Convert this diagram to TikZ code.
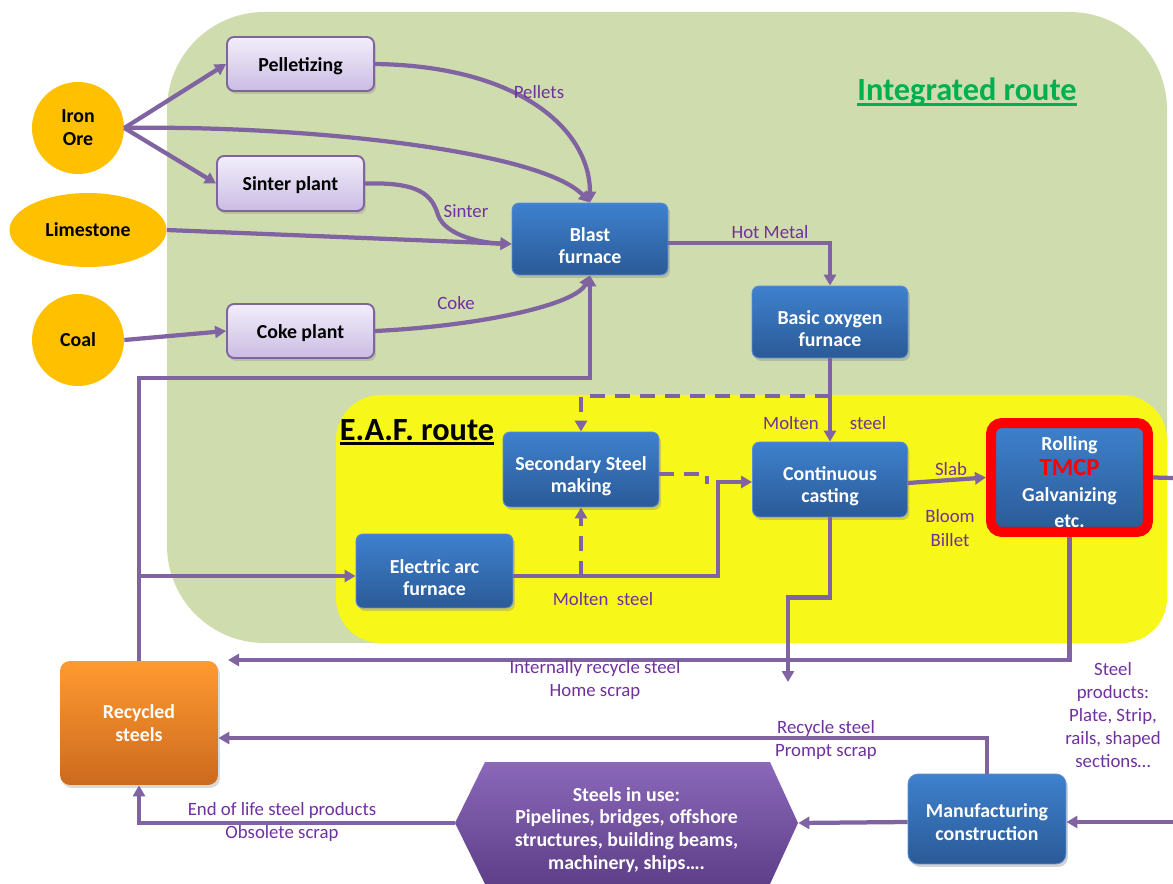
\documentclass[tikz,border=0pt]{standalone}
\usepackage{fontspec}
\setmainfont{Carlito}
\usetikzlibrary{arrows.meta,shapes.geometric,shadows,calc}
\definecolor{bggreen}{HTML}{CFDDAE}
\definecolor{bgyellow}{HTML}{F7F71A}
\definecolor{lc}{HTML}{8064A2}
\definecolor{lt}{HTML}{7030A0}
\definecolor{oc}{HTML}{FFC000}
\definecolor{tg}{HTML}{00B050}
\definecolor{bA}{HTML}{3E81CE}
\definecolor{bB}{HTML}{2B5A97}
\definecolor{bC}{HTML}{5B8ED3}
\definecolor{lA}{HTML}{F2EEFB}
\definecolor{lB}{HTML}{CBBCE3}
\definecolor{rA}{HTML}{FF9A30}
\definecolor{rB}{HTML}{CC6A1E}
\definecolor{hA}{HTML}{8B68BA}
\definecolor{hB}{HTML}{5E3F88}
\newcommand\myNodeFont{\fontsize{11.3}{13}\selectfont\bfseries}
\newcommand\myLblFont{\fontsize{10.7}{13.2}\selectfont}
\newcommand\myTitleFont{\fontsize{18.4}{20}\selectfont\bfseries}
\newcommand\myGap[1]{\rule{0pt}{#1}}
\tikzset{
  flow/.style={draw=lc, line width=0.085cm, -{Triangle[length=0.22cm,width=0.24cm]}},
  plainline/.style={draw=lc, line width=0.085cm},
  dashes/.style={dash pattern=on 0.3cm off 0.2cm},
  bluebox/.style={rectangle, rounded corners=0.14cm, top color=bA, bottom color=bB, draw=bC, line width=0.5pt,
    text=white, font=\myNodeFont, align=center, inner sep=2pt,
    drop shadow={shadow xshift=0.04cm, shadow yshift=-0.06cm, opacity=0.35}},
  lavbox/.style={rectangle, rounded corners=0.14cm, top color=lA, bottom color=lB, draw=lc, line width=1.1pt,
    font=\myNodeFont, align=center, inner sep=2pt,
    execute at begin node={\myGap{10.3pt}},
    drop shadow={shadow xshift=0.04cm, shadow yshift=-0.06cm, opacity=0.3}},
  orangeshape/.style={fill=oc, font=\myNodeFont, align=center, inner sep=0pt},
  lbl/.style={text=lt, font=\myLblFont, align=center, inner sep=0pt}
}
\begin{document}
\begin{tikzpicture}[x=0.02cm,y=-0.02cm]
\useasboundingbox (0,0) rectangle (1173,884);
% background regions
\fill[bggreen, rounded corners=1.95cm] (167,12) rectangle (1167,643);
\fill[bgyellow, rounded corners=0.9cm] (336,395) rectangle (1167,643);
% titles
\node[font=\myTitleFont, text=tg, inner sep=0pt] (tint) at (967,92) {Integrated route};
\draw[tg, line width=0.06cm] ([yshift=-0.08cm]tint.base west) -- ([yshift=-0.08cm]tint.base east);
\node[font=\myTitleFont, inner sep=0pt] (teaf) at (417,430) {E.A.F. route};
\draw[black, line width=0.06cm] ([yshift=-0.07cm]teaf.base west) -- ([yshift=-0.07cm]teaf.base east);
% raw materials
\node[orangeshape, circle, minimum size=1.84cm] (ore) at (78,128) {Iron\\Ore};
\node[orangeshape, ellipse, minimum width=3.14cm, minimum height=1.48cm] (lime) at (88,230) {Limestone};
\node[orangeshape, circle, minimum size=1.84cm] (coal) at (78,340) {Coal};
% lavender boxes
\node[lavbox, minimum width=2.94cm, minimum height=1.08cm] (pell) at (300.5,64) {Pelletizing};
\node[lavbox, minimum width=2.94cm, minimum height=1.1cm] (sinter) at (290.5,183.5) {Sinter plant};
\node[lavbox, minimum width=2.94cm, minimum height=1.08cm] (coke) at (300.5,331) {Coke plant};
% blue boxes
\node[bluebox, minimum width=3.12cm, minimum height=1.44cm] (bf) at (590,239) {\myGap{15.5pt}Blast\\furnace};
\node[bluebox, minimum width=3.12cm, minimum height=1.44cm] (bof) at (830,322) {\myGap{15.5pt}Basic oxygen\\furnace};
\node[bluebox, minimum width=3.12cm, minimum height=1.5cm] (sec) at (581,469.5) {\myGap{15.5pt}Secondary Steel\\making};
\node[bluebox, minimum width=3.1cm, minimum height=1.5cm] (cc) at (830,479.5) {\myGap{15.5pt}Continuous\\casting};
\node[bluebox, minimum width=3.14cm, minimum height=1.48cm] (eaf) at (434.5,571) {\myGap{15.5pt}Electric arc\\furnace};
\node[bluebox, draw=red, line width=0.2cm, rounded corners=0.22cm, minimum width=3.14cm, minimum height=2.18cm,
  font=\fontsize{11.3}{14.6}\selectfont\bfseries] (roll) at (1069.5,477.5)
  {\myGap{12.7pt}Rolling\\{\color{red}\fontsize{14}{14.6}\selectfont TMCP}\\Galvanizing\\etc.};
\node[bluebox, minimum width=3.16cm, minimum height=1.8cm, rounded corners=0.2cm] (manu) at (987,819)
  {\myGap{11.5pt}Manufacturing\\construction};
\node[rectangle, rounded corners=0.2cm, top color=rA, bottom color=rB, text=white, font=\myNodeFont, align=center,
  minimum width=3.16cm, minimum height=2.48cm,
  drop shadow={shadow xshift=0.04cm, shadow yshift=-0.06cm, opacity=0.3}] (rec) at (139,723) {Recycled\\steels};
% hexagon
\shade[top color=hA, bottom color=hB] (455,823) -- (485,762) -- (770,762) -- (798,823) -- (770,884) -- (485,884) -- cycle;
\node[font=\myNodeFont, text=white, align=center, minimum width=6.86cm, minimum height=2.44cm, inner sep=0pt] (use) at (626.5,830)
  {Steels in use:\\Pipelines, bridges, offshore\\structures, building beams,\\machinery, ships….};
% coordinates for free ends
\coordinate (ds) at (830,396);
\coordinate (dsend) at (707,484);
\coordinate (eafl) at (600,576);
\coordinate (home) at (788,682);
\coordinate (intl) at (228,660);
\coordinate (rE) at (1173,478);
\coordinate (rEtwo) at (1173,822);
\coordinate (bfl) at (590,378);
% connectors
\draw[flow] (ore.east) -- (pell.west);
\draw[flow] (ore.east) -- (sinter.west);
\draw[flow] (ore.east) .. controls (300,125) and (540,150) .. (bf.north);
\draw[flow] (pell.east) .. controls (520,66) and (590,130) .. (bf.north);
\draw[flow] (sinter.east) .. controls (420,182) and (432,195) .. (438,215) .. controls (445,235) and (480,243) .. ([yshift=-0.1cm]bf.west);
\draw[flow] (lime.east) -- ([yshift=-0.1cm]bf.west);
\draw[flow] (coal.east) -- (coke.west);
\draw[flow] (coke.east) .. controls (480,326) and (575,305) .. (bf.south);
\draw[flow] ([yshift=-0.08cm]bf.east) -| (bof.north);
\draw[flow] (bof.south) -- (cc.north);
\draw[flow, dashes] (ds) -| (sec.north);
\draw[plainline, dashes] ([yshift=-0.09cm]sec.east) -| (dsend);
\draw[flow] (eaf.east |- eafl) -- (718,576) |- ([yshift=-0.05cm]cc.west);
\draw[flow, dashes] (sec.south |- eafl) -- (sec.south);
\draw[flow] ([yshift=-0.07cm]cc.east) -- (roll.west);
\draw[flow] (cc.south) -- ++(0,80) -| (home);
\draw[flow] (roll.south) |- (intl);
\draw[plainline] (roll.east) -- (rE);
\draw[flow] (rEtwo) -- (manu.east |- rEtwo);
\draw[flow] ([yshift=-0.06cm]manu.west) -- ([yshift=0.14cm]use.east);
\draw[flow] (manu.north) |- ([yshift=-0.3cm]rec.east);
\draw[flow] ([yshift=0.14cm]use.west) -| (rec.south);
\draw[flow] (rec.north) |- (bfl) -- (bf.south);
\draw[flow] (rec.north |- eafl) -- (eaf.west |- eafl);
% labels
\node[lbl] (lpel) at (539,92) {Pellets};
\node[lbl] (lsin) at (466,211) {Sinter};
\node[lbl] (lcok) at (456,303) {Coke};
\node[lbl] (lhot) at (770,232) {Hot Metal};
\node[lbl] (lmoa) at (791,423) {Molten};
\node[lbl] (lmob) at (868,423) {steel};
\node[lbl] (lslab) at (951,469) {Slab};
\node[lbl] (lbb) at (950,528) {Bloom\\Billet};
\node[lbl] (lms) at (603,599) {Molten\ \ steel};
\node[lbl] (lint) at (595,680) {Internally recycle steel\\Home scrap};
\node[lbl] (lrec) at (826,740) {Recycle steel\\Prompt scrap};
\node[lbl] (leol) at (282,822) {End of life steel products\\Obsolete scrap};
\node[lbl] (lsp) at (1113,715) {Steel\\products:\\Plate, Strip,\\rails, shaped\\sections…};
\end{tikzpicture}
\end{document}
